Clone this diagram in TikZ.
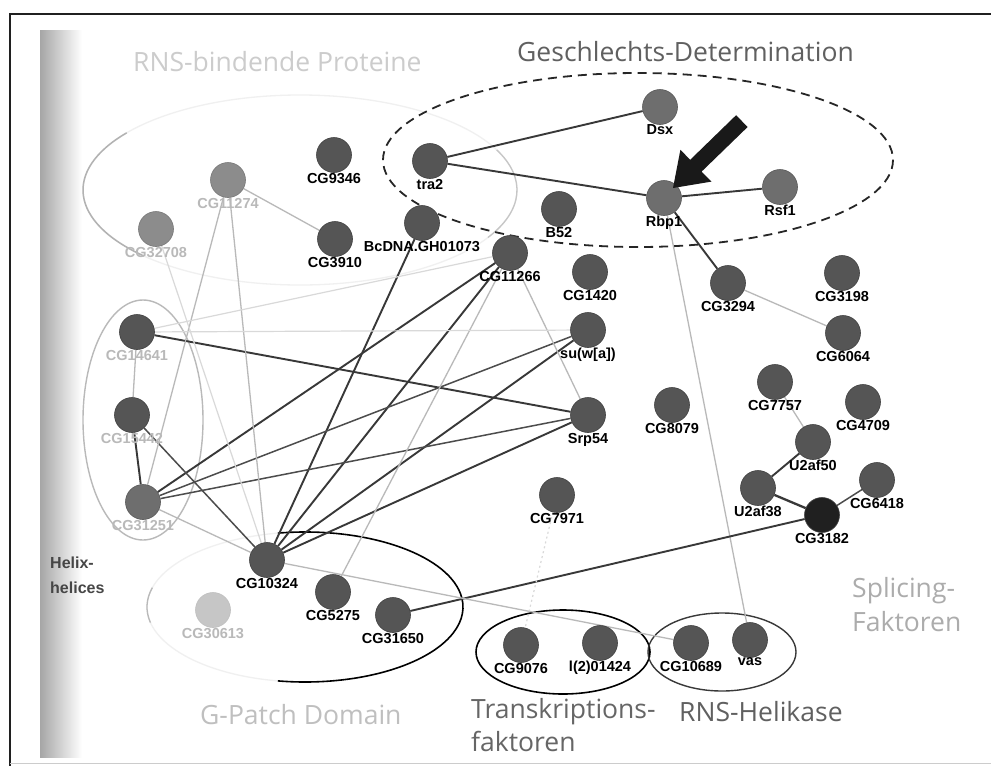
\documentclass[tikz,border=0pt]{standalone}
\usepackage{fontspec}
\setmainfont{Liberation Sans}
\newfontfamily\titlefont{Open Sans}
\usetikzlibrary{backgrounds}
\definecolor{nd}{HTML}{555555}
\definecolor{ndl}{HTML}{6E6E6E}
\definecolor{ndf}{HTML}{8C8C8C}
\definecolor{edk}{HTML}{383838}
\begin{document}
\begin{tikzpicture}[x=1pt,y=-1pt,
  prot/.style={circle,minimum size=35pt,inner sep=0pt,fill=nd,draw=nd!75!black,line width=0.6pt,label distance=1.5pt},
  protl/.style={prot,fill=ndl,draw=ndl!80!black},
  protf/.style={prot,fill=ndf,draw=ndf!85!black},
  lbl/.style={font=\fontsize{14.5}{14.5}\selectfont\bfseries,inner sep=0pt,text=black},
  lblf/.style={lbl,text=gray!55},
  ttl/.style={font=\titlefont\fontsize{26.5}{28}\selectfont,inner sep=0pt,anchor=west},
  dk/.style={draw=edk,line width=1.9pt},
  md/.style={draw=gray!60!black,line width=1.5pt},
  lt/.style={draw=gray!55,line width=1.3pt},
  vlt/.style={draw=gray!30,line width=1.2pt},
  grp/.style={draw=black,line width=1.6pt}]
\useasboundingbox (0,0) rectangle (991,766);

% ---------- nodes ----------
% sex determination
\node[protl,label={[lbl]below:Dsx}] (dsx) at (660,107) {};
\node[protl,label={[lbl]below:Rbp1}] (rbp) at (664,198) {};
\node[protl,label={[lbl]below:Rsf1}] (rsf) at (780,187) {};
\node[prot,label={[lbl]below:tra2}] (tra) at (430,161) {};
% RNA binding
\node[prot,label={[lbl]below:CG9346}] (g9346) at (334,155) {};
\node[protf,label={[lblf]below:CG11274}] (g11274) at (228,180) {};
\node[protf,label={[lblf]below:CG32708}] (g32708) at (156,229) {};
\node[prot,label={[lbl]below:CG3910}] (g3910) at (335,239) {};
\node[prot,label={[lbl]below:BcDNA.GH01073}] (bcd) at (422,223) {};
\node[prot,label={[lbl]below:CG11266}] (g11266) at (510,253) {};
\node[prot,label={[lbl]below:B52}] (b52) at (559,209) {};
\node[prot,label={[lbl]below:CG1420}] (g1420) at (590,272) {};
\node[prot,label={[lbl]below:{su(w[a])}}] (suw) at (588,330) {};
\node[prot,label={[lbl]below:Srp54}] (srp) at (588,415) {};
\node[prot,label={[lbl]below:CG8079}] (g8079) at (672,405) {};
\node[prot,label={[lbl]below:CG7971}] (g7971) at (557,495) {};
% splicing factors
\node[prot,label={[lbl]below:CG3294}] (g3294) at (728,283) {};
\node[prot,label={[lbl]below:CG3198}] (g3198) at (842,273) {};
\node[prot,label={[lbl]below:CG6064}] (g6064) at (843,333) {};
\node[prot,label={[lbl]below:CG7757}] (g7757) at (775,382) {};
\node[prot,label={[lbl]below:CG4709}] (g4709) at (863,402) {};
\node[prot,label={[lbl]below:U2af50}] (u50) at (813,442) {};
\node[prot,label={[lbl]below:U2af38}] (u38) at (758,488) {};
\node[prot,label={[lbl]below:CG6418}] (g6418) at (877,480) {};
\node[prot,fill=gray!25!black,label={[lbl]below:CG3182}] (g3182) at (822,515) {};
% G-patch
\node[prot,label={[lbl]below:CG10324}] (g10324) at (267,560) {};
\node[prot,label={[lbl]below:CG5275}] (g5275) at (333,592) {};
\node[prot,label={[lbl]below:CG31650}] (g31650) at (393,615) {};
\node[protf,fill=gray!45,draw=gray!50,label={[lblf]below:CG30613}] (g30613) at (213,610) {};
% transcription factors / helicases
\node[prot,label={[lbl]below:CG9076}] (g9076) at (521,645) {};
\node[prot,label={[lbl]below:l(2)01424}] (l2) at (600,643) {};
\node[prot,label={[lbl]below:CG10689}] (g10689) at (691,643) {};
\node[prot,label={[lbl]below:vas}] (vas) at (750,640) {};
% left helix group
\node[prot,label={[lblf]below:CG14641}] (g14641) at (137,332) {};
\node[prot,label={[lblf]below:CG15442}] (g15442) at (132,415) {};
\node[protl,label={[lblf]below:CG31251}] (g31251) at (143,502) {};

% ---------- titles ----------
\node[ttl,text=gray!40] (tRNS) at (133,62) {RNS-bindende Proteine};
\node[ttl,text=gray!75!black] (tGes) at (517,52) {Geschlechts-Determination};
\node[ttl,text=gray!50] (tGP) at (200,715) {G-Patch Domain};
\node[ttl,text=gray!80!black] (tTF1) at (471,712) {Transkriptions-};
\node[ttl,text=gray!80!black] (tTF2) at (471,741) {faktoren};
\node[ttl,text=gray!75!black] (tHel) at (679,712) {RNS-Helikase};
\node[ttl,text=gray!65] (tSp1) at (852,591) {Splicing-};
\node[ttl,text=gray!65] (tSp2) at (852,622) {Faktoren};
\node[font=\fontsize{16}{16}\selectfont\bfseries,inner sep=0pt,anchor=west,text=gray!55!black] (tHx1) at (50,563) {Helix-};
\node[font=\fontsize{16}{16}\selectfont\bfseries,inner sep=0pt,anchor=west,text=gray!55!black] (tHx2) at (50,588) {helices};

% ---------- arrow ----------
\fill[black!90] (673,188) -- (711.5,181.6) -- (701.6,171.6) -- (747.6,127.0) -- (736.1,115.2) -- (690.2,159.8) -- (680.4,149.8) -- cycle;

\begin{pgfonlayer}{background}
\fill[white] (0,0) rectangle (991,766);
\shade[left color=gray!70,right color=white] (40,30) rectangle (82,757);
% frame
\draw[gray!25!black,line width=2pt] (10,766) -- (10,14) -- (991,14);
\draw[gray!40,line width=1pt] (10,763) -- (991,763);

% group outlines
\draw[gray!12,line width=1.3pt] (300,190) ellipse [x radius=217,y radius=95];
\draw[gray!60,line width=1.5pt] (300,190) ++(136:217 and 95) arc[start angle=136,end angle=217,x radius=217,y radius=95];
\draw[gray!45,line width=1.3pt] (300,190) ++(-25:217 and 95) arc[start angle=-25,end angle=30,x radius=217,y radius=95];
\draw[gray!30!black,line width=1.8pt,dash pattern=on 9pt off 6pt] (638,160) ellipse [x radius=255,y radius=87];
\draw[gray!55,line width=1.4pt] (143,420) ellipse [x radius=60,y radius=120];
\draw[grp] (305,607) ++(-100:158 and 75) arc[start angle=-100,end angle=100,x radius=158,y radius=75];
\draw[gray!12,line width=1.3pt] (305,607) ++(100:158 and 75) arc[start angle=100,end angle=260,x radius=158,y radius=75];
\draw[gray!55,line width=1.3pt] (305,607) ++(168:158 and 75) arc[start angle=168,end angle=195,x radius=158,y radius=75];
\draw[grp] (563,652) ellipse [x radius=87,y radius=42];
\draw[gray!45!black,line width=1.4pt] (722,652) ellipse [x radius=74,y radius=39];

% ---------- connectors ----------
\draw[dk] (tra) -- (dsx);
\draw[dk] (tra) -- (rbp);
\draw[dk] (rbp) -- (rsf);
\draw[dk] (rbp) -- (g3294);
\draw[lt] (rbp) -- (vas);
\draw[lt] (g3294) -- (g6064);
\draw[lt] (g7757) -- (u50);
\draw[dk] (u50) -- (u38);
\draw[dk,line width=2.3pt] (u38) -- (g3182);
\draw[md] (g6418) -- (g3182);
\draw[dk] (g3182) -- (g31650);
\draw[lt] (g10324) -- (g10689);
\draw[vlt,dash pattern=on 2pt off 3pt] (g7971) -- (g9076);

\draw[dk] (g14641) -- (srp);
\draw[dk] (g10324) -- (srp);
\draw[dk] (g10324) -- (suw);
\draw[dk] (g10324) -- (g11266);
\draw[dk] (g10324) -- (bcd);
\draw[dk] (g11266) -- (g31251);
\draw[md] (g31251) -- (srp);
\draw[md] (g31251) -- (suw);
\draw[dk] (g15442) -- (g31251);
\draw[lt] (g14641) -- (g15442);
\draw[md] (g15442) -- (g10324);
\draw[lt] (g31251) -- (g10324);
\draw[lt] (g11274) -- (g10324);
\draw[lt] (g11274) -- (g31251);
\draw[lt] (g11274) -- (g3910);
\draw[vlt] (g32708) -- (g10324);
\draw[lt] (g11266) -- (g5275);
\draw[lt] (g11266) -- (srp);
\draw[vlt] (g11266) -- (g14641);
\draw[vlt] (g14641) -- (suw);
\end{pgfonlayer}
\end{tikzpicture}
\end{document}
